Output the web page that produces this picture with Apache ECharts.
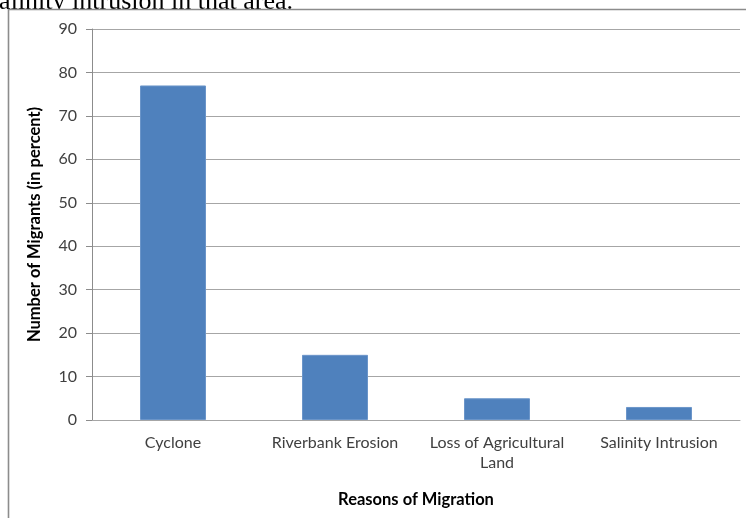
<!DOCTYPE html>
<html>
<head>
<meta charset="utf-8">
<script src="https://cdn.jsdelivr.net/npm/echarts@6/dist/echarts.min.js"></script>
<style>
  html, body { margin: 0; padding: 0; background: #fff; }
  #chart { width: 746px; height: 518px; }
</style>
</head>
<body>
<div id="chart"></div>
<script>
// Reasons for migration and share of migrants (percent)
const categories = ['Cyclone', 'Riverbank Erosion', 'Loss of Agricultural\nLand', 'Salinity Intrusion'];
const migrantShare = [77, 15, 5, 3];
const yTicks = { min: 0, max: 90, interval: 10 };

const chart = echarts.init(document.getElementById('chart'), null, { renderer: 'canvas' });

const labelFont = 'Lato, "Noto Sans", sans-serif';

chart.setOption({
  backgroundColor: '#ffffff',
  animation: false,
  graphic: [
    {
      // tail of the paragraph sitting above the figure
      type: 'text',
      left: -11,
      top: -11,
      z: -20,
      style: {
        text: 'salinity intrusion in that area.',
        font: '26px "Liberation Serif", "Times New Roman", serif',
        fill: '#000000'
      }
    },
    {
      // chart frame
      type: 'rect',
      z: -10,
      shape: { x: 8.5, y: 9.5, width: 800, height: 600 },
      style: { fill: '#ffffff', stroke: '#8c8c8c', lineWidth: 1.6 }
    }
  ],
  grid: { left: 92, right: 6, top: 29, height: 391, containLabel: false },
  xAxis: {
    type: 'category',
    data: categories,
    name: 'Reasons of Migration',
    nameLocation: 'middle',
    nameGap: 71,
    nameTextStyle: { fontFamily: labelFont, fontWeight: 'bold', fontSize: 16.5, color: '#000' },
    axisLine: { show: true, lineStyle: { color: '#a6a6a6', width: 1 } },
    axisTick: { show: false },
    axisLabel: {
      fontFamily: labelFont, fontSize: 16, color: '#404040',
      margin: 13, lineHeight: 20, interval: 0
    },
    splitLine: { show: false }
  },
  yAxis: {
    type: 'value',
    min: yTicks.min,
    max: yTicks.max,
    interval: yTicks.interval,
    name: 'Number of Migrants (in percent)',
    nameLocation: 'middle',
    nameGap: 49,
    nameRotate: 90,
    nameTextStyle: { fontFamily: labelFont, fontWeight: 'bold', fontSize: 16.5, color: '#000' },
    axisLine: { show: true, lineStyle: { color: '#8c8c8c', width: 1 } },
    axisTick: { show: true, inside: false, length: 6, lineStyle: { color: '#8c8c8c' } },
    axisLabel: { fontFamily: labelFont, fontSize: 16, color: '#404040', margin: 15 },
    splitLine: { show: true, lineStyle: { color: '#a6a6a6', width: 1 } }
  },
  series: [{
    type: 'bar',
    data: migrantShare,
    barWidth: 66,
    itemStyle: { color: '#4f81bd', borderColor: '#6b95c9', borderWidth: 1 }
  }]
});
</script>
</body>
</html>
